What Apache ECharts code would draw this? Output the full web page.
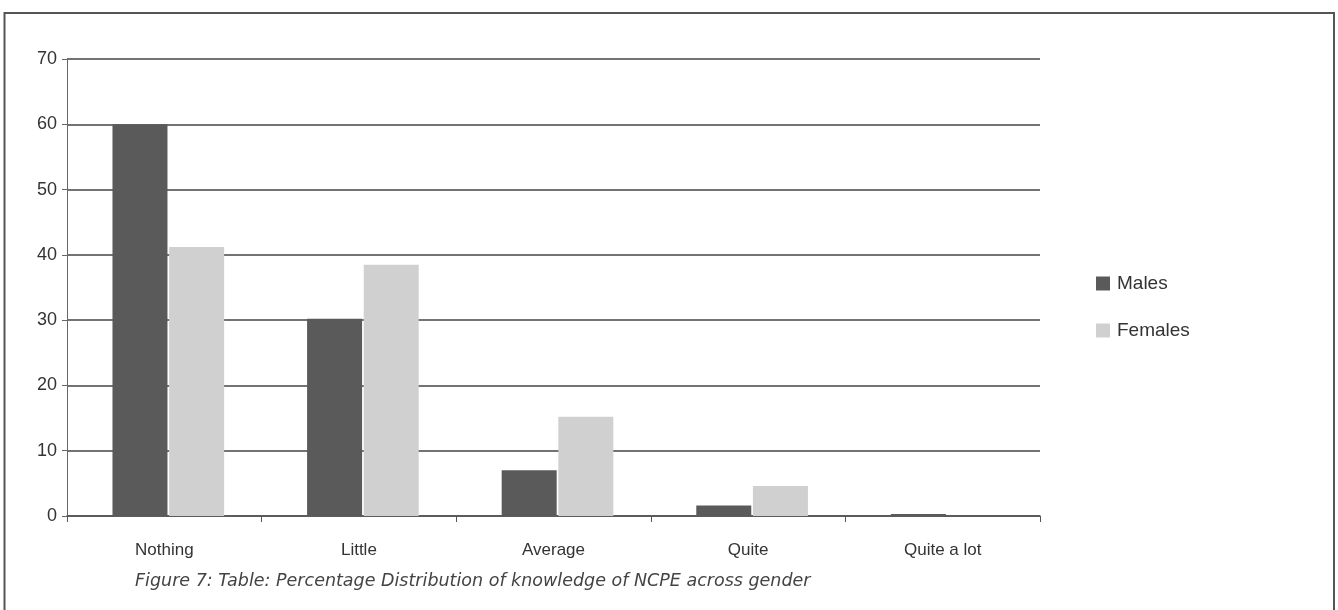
<!DOCTYPE html>
<html>
<head>
<meta charset="utf-8">
<script src="https://cdn.jsdelivr.net/npm/echarts@6/dist/echarts.min.js"></script>
<style>
html,body{margin:0;padding:0;background:#fff;}
#c{width:1338px;height:610px;}
</style>
</head>
<body>
<div id="c"></div>
<script>
var categories = ["Nothing", "Little", "Average", "Quite", "Quite a lot"];
var males = [60, 30.2, 7, 1.6, 0.3];
var females = [41.2, 38.5, 15.2, 4.6, 0];
var seriesNames = ["Males", "Females"];
var yTicks = { min: 0, max: 70, interval: 10 };
var caption = "Figure 7: Table: Percentage Distribution of knowledge of NCPE across gender";

var chart = echarts.init(document.getElementById('c'));
var font = '"Liberation Sans", Arial, sans-serif';
chart.setOption({
  animation: false,
  backgroundColor: '#fff',
  textStyle: { fontFamily: font },
  grid: [
    { left: 67, right: 298, top: 59, bottom: 94, containLabel: false },
    { left: 71, right: 294, top: 59, bottom: 94, containLabel: false }
  ],
  legend: {
    orient: 'vertical',
    left: 1091,
    top: 269,
    itemWidth: 14,
    itemHeight: 14,
    itemGap: 28,
    icon: 'rect',
    textStyle: { fontSize: 19, color: '#333', fontFamily: font, padding: [0, 0, 0, 2] },
    data: seriesNames
  },
  xAxis: [
    {
      type: 'category',
      gridIndex: 0,
      data: categories,
      axisLine: { lineStyle: { color: '#555', width: 1.5 } },
      axisTick: { show: true, length: 6, lineStyle: { color: '#555' } },
      axisLabel: { fontSize: 17, color: '#333', margin: 26, fontFamily: font }
    },
    {
      type: 'category',
      gridIndex: 1,
      data: categories,
      show: false
    }
  ],
  yAxis: [
    {
      type: 'value',
      gridIndex: 0,
      min: yTicks.min, max: yTicks.max, interval: yTicks.interval,
      axisLine: { show: true, lineStyle: { color: '#666', width: 1 } },
      axisTick: { show: true, length: 5, lineStyle: { color: '#666' } },
      axisLabel: { fontSize: 18, color: '#333', margin: 10, fontFamily: font },
      splitLine: { show: true, lineStyle: { color: '#444', width: 1.5 } }
    },
    {
      type: 'value',
      gridIndex: 1,
      min: yTicks.min, max: yTicks.max, interval: yTicks.interval,
      show: false,
      splitLine: { show: false }
    }
  ],
  series: [
    { name: seriesNames[0], type: 'bar', data: males, barWidth: 55, barGap: '3%',
      xAxisIndex: 1, yAxisIndex: 1,
      itemStyle: { color: '#5a5a5a' } },
    { name: seriesNames[1], type: 'bar', data: females, barWidth: 55, barGap: '3%',
      xAxisIndex: 1, yAxisIndex: 1,
      itemStyle: { color: '#d0d0d0' } }
  ],
  graphic: [
    { type: 'rect', shape: { x: 4.5, y: 13, width: 1329.5, height: 610 },
      style: { fill: null, stroke: '#555', lineWidth: 2 }, z: 0 },
    { type: 'text', left: 135, top: 572,
      style: { text: caption, fill: '#444', font: 'italic 17.5px "DejaVu Sans", sans-serif' } }
  ]
});
</script>
</body>
</html>
